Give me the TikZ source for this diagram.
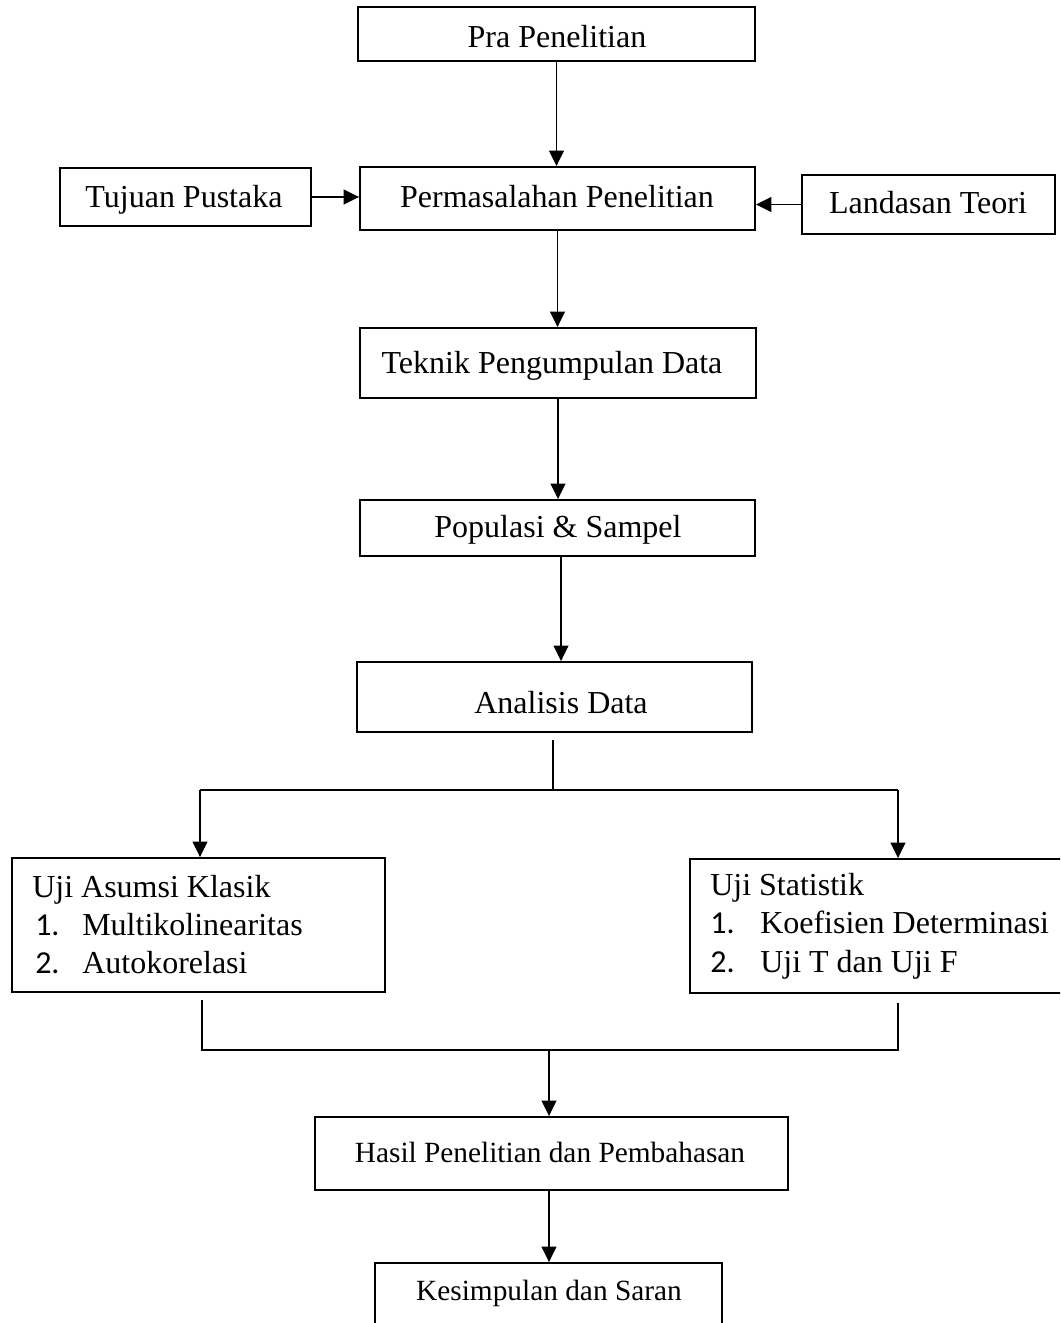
\documentclass[tikz,border=0pt]{standalone}
\usepackage{fontspec}
\setmainfont{Liberation Serif}
\newfontfamily\numfont{Carlito}
\usetikzlibrary{arrows.meta}
\begin{document}
\begin{tikzpicture}[x=0.75pt,y=-0.75pt,
  box/.style={draw, line width=1.4pt, rectangle, inner sep=0pt},
  txt/.style={inner sep=0pt, anchor=base west, font=\fontsize{24}{29}\selectfont},
  ctxt/.style={inner sep=0pt, anchor=base, font=\fontsize{24}{29}\selectfont},
  stxt/.style={inner sep=0pt, anchor=base, font=\fontsize{22}{26}\selectfont},
  conn/.style={line width=1.2pt, -{Triangle[length=11.5pt,width=11pt]}},
  plain/.style={line width=1.2pt}]
\useasboundingbox (0,0) rectangle (1060,1323);
\clip (0,0) rectangle (1060,1323);
% boxes
\node[box, minimum width=397*0.75pt, minimum height=54*0.75pt] (pra) at (556.5,34) {};
\node[box, minimum width=395*0.75pt, minimum height=63*0.75pt] (perm) at (557.5,198.5) {};
\node[box, minimum width=251*0.75pt, minimum height=58*0.75pt] (tuj) at (185.5,197) {};
\node[box, minimum width=253*0.75pt, minimum height=59*0.75pt] (lan) at (928.5,204.5) {};
\node[box, minimum width=396*0.75pt, minimum height=70*0.75pt] (tek) at (558,363) {};
\node[box, minimum width=395*0.75pt, minimum height=56*0.75pt] (pop) at (557.5,528) {};
\node[box, minimum width=395*0.75pt, minimum height=70*0.75pt] (ana) at (554.5,697) {};
\node[box, minimum width=373*0.75pt, minimum height=134*0.75pt] (uak) at (198.5,925) {};
\node[box, minimum width=390*0.75pt, minimum height=134*0.75pt] (ust) at (885,926) {};
\node[box, minimum width=473*0.75pt, minimum height=73*0.75pt] (has) at (551.5,1153.5) {};
\node[box, minimum width=347*0.75pt, minimum height=77*0.75pt] (kes) at (548.5,1301.5) {};
% box texts
\node[ctxt] (prat) at (557,48) {Pra Penelitian};
\node[ctxt] (permt) at (557,208) {Permasalahan Penelitian};
\node[ctxt] (tujt) at (184,208) {Tujuan Pustaka};
\node[ctxt] (lant) at (928,214) {Landasan Teori};
\node[ctxt] (tekt) at (552,373) {Teknik Pengumpulan Data};
\node[ctxt] (popt) at (558,537) {Populasi \& Sampel};
\node[ctxt] (anat) at (561,713) {Analisis Data};
\node[stxt] (hast) at (550,1162) {Hasil Penelitian dan Pembahasan};
\node[stxt] (kest) at (549,1300) {Kesimpulan dan Saran};
% list texts
\node[txt] (l0) at (32,897) {Uji Asumsi Klasik};
\node[txt] (l1n) at (35,935) {\numfont 1.};
\node[txt] (l1) at (82,935) {Multikolinearitas};
\node[txt] (l2n) at (35,973) {\numfont 2.};
\node[txt] (l2) at (82,973) {Autokorelasi};
\node[txt] (r0) at (710,895) {Uji Statistik};
\node[txt] (r1n) at (710,933) {\numfont 1.};
\node[txt] (r1) at (760,933) {Koefisien Determinasi};
\node[txt] (r2n) at (710,972) {\numfont 2.};
\node[txt] (r2) at (760,972) {Uji T dan Uji F};
% coordinates
\coordinate (a1) at (553,740);
\coordinate (a2) at (553,790);
\coordinate (lsp) at (200,790);
\coordinate (rsp) at (898,790);
\coordinate (b1) at (202,1000);
\coordinate (b2) at (202,1050);
\coordinate (b3) at (898,1050);
\coordinate (b4) at (898,1003);
\coordinate (bm) at (549,1050);
\coordinate (p1) at (561,556);
% connectors
\draw[conn] (pra.south) -- (pra.south |- perm.north);
\draw[conn] (tuj.east) -- (tuj.east -| perm.west);
\draw[conn] (lan.west) -- (lan.west -| perm.east);
\draw[conn] (perm.south) -- (perm.south |- tek.north);
\draw[conn] (tek.south) -- (tek.south |- pop.north);
\draw[conn] (p1) -- (p1 |- ana.north);
\draw[plain] (a1) -- (a2);
\draw[plain] (lsp) -- (rsp);
\draw[conn] (lsp) -- (lsp |- uak.north);
\draw[conn] (rsp) -- (rsp |- ust.north);
\draw[plain] (b1) -- (b2) -- (b3) -- (b4);
\draw[conn] (bm) -- (bm |- has.north);
\draw[conn] (has.south -| bm) -- (bm |- kes.north);
\end{tikzpicture}
\end{document}
